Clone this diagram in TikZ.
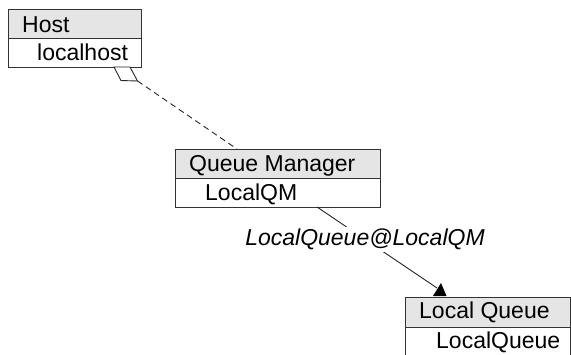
\documentclass[tikz,border=0pt]{standalone}
\usepackage{fontspec}
\setmainfont{Liberation Sans}
\begin{document}
\begin{tikzpicture}[x=1pt,y=-1pt,
  box/.style={draw=black!80, line width=1.2pt, rectangle, inner sep=0pt, anchor=north west},
  hdr/.style={box, fill=black!10},
  bdy/.style={box, fill=white},
  txt/.style={anchor=base west, inner sep=0pt, font=\fontsize{23}{27}\selectfont, text=black},
  conn/.style={draw=black!85, line width=0.9pt},
  lbl/.style={fill=white, inner sep=2pt, font=\fontsize{23}{27}\selectfont\itshape, text=black}]
\useasboundingbox (0,0) rectangle (571,354);
\clip (0,0) rectangle (571,354);
% Host
\node[hdr, minimum width=133pt, minimum height=29pt] (hostH) at (8,9) {};
\node[bdy, minimum width=133pt, minimum height=29pt] (hostB) at (8,38) {};
\node[txt] (hostT) at (22,32) {Host};
\node[txt] (hostV) at (37,60) {localhost};
% Queue Manager
\node[hdr, minimum width=205pt, minimum height=29pt] (qmH) at (175,149) {};
\node[bdy, minimum width=205pt, minimum height=29pt] (qmB) at (175,178) {};
\node[txt] (qmT) at (189,171.5) {Queue Manager};
\node[txt] (qmV) at (205,200) {LocalQM};
% Local Queue
\node[hdr, minimum width=165pt, minimum height=29.5pt] (lqH) at (405,297) {};
\node[bdy, minimum width=165pt, minimum height=40pt] (lqB) at (405,326.5) {};
\node[txt] (lqT) at (419,318.5) {Local Queue};
\node[txt] (lqV) at (436,348) {LocalQueue};
% aggregation diamond
\coordinate (dA) at (114,67);
\coordinate (dB) at (121,80.5);
\coordinate (dC) at (137.5,81);
\coordinate (dD) at (130,67);
\coordinate (qmIn) at (237,149);
\draw[conn, fill=white, line join=miter] (dA) -- (dB) -- (dC) -- (dD) -- cycle;
\draw[conn, dash pattern=on 6pt off 4pt] (dC) -- (qmIn);
% association with arrow
\coordinate (qmOut) at (317,207);
\coordinate (arrEnd) at (437,288);
\coordinate (tA) at (433,296);
\coordinate (tB) at (446.5,296);
\coordinate (tC) at (441,283);
\draw[conn] (qmOut) -- node[lbl, pos=0.40] (assoc) {LocalQueue@LocalQM} (arrEnd);
\fill[black] (tA) -- (tB) -- (tC) -- cycle;
\end{tikzpicture}
\end{document}
